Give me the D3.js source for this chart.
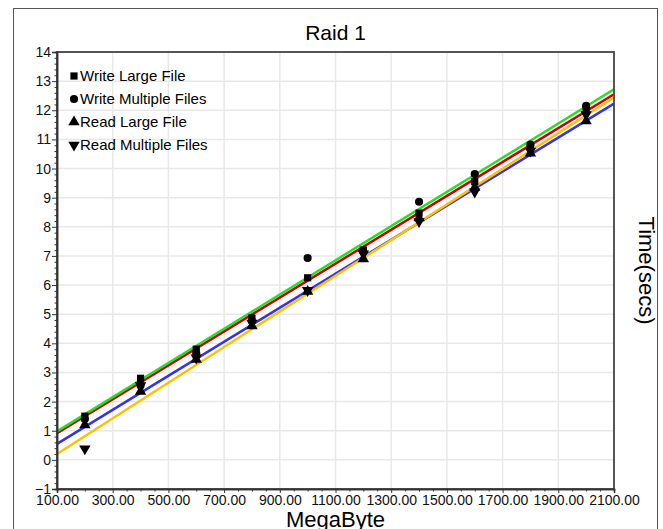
<!DOCTYPE html>
<html>
<head>
<meta charset="utf-8">
<script src="https://cdn.jsdelivr.net/npm/d3@7"></script>
<style>
  body { margin: 0; background: #fff; }
  svg { font-family: "Liberation Sans", Arial, sans-serif; }
</style>
</head>
<body>
<div id="main"></div>
<script>
const w = 663, h = 529
const margin = {left: 57, right: 49, top: 52, bottom: 40}

// data
const sizes = [200, 400, 600, 800, 1000, 1200, 1400, 1600, 1800, 2000]
const writeLarge = [1.5, 2.8, 3.8, 4.87, 6.25, 7.2, 8.47, 9.55, 10.78, 12.05]
const writeMultiple = [1.4, 2.55, 3.65, 4.77, 6.93, 7.15, 8.86, 9.81, 10.82, 12.15]
const readLarge = [1.2, 2.35, 3.45, 4.6, 5.78, 6.9, 8.3, 9.35, 10.53, 11.63]
const readMultiple = [0.38, 2.55, 3.5, 4.7, 5.82, 7.07, 8.18, 9.2, 10.6, 11.85]

// fitted lines, value at 100 and at 2100 MB
const fitX = [100, 2100]
const fitWriteLarge = [0.92, 12.55]
const fitWriteMultiple = [0.98, 12.72]
const fitReadLarge = [0.55, 12.23]
const fitReadMultiple = [0.2, 12.44]

const xTicks = d3.range(100, 2101, 200)
const yTicks = d3.range(-1, 15, 1)

const series = [
  {name: 'Write Large File', vals: writeLarge, fit: fitWriteLarge, sym: d3.symbolSquare, size: 52, color: '#cc0000'},
  {name: 'Write Multiple Files', vals: writeMultiple, fit: fitWriteMultiple, sym: d3.symbolCircle, size: 52, color: '#22e022'},
  {name: 'Read Large File', vals: readLarge, fit: fitReadLarge, sym: d3.symbolTriangle, size: 56, color: '#3333ee'},
  {name: 'Read Multiple Files', vals: readMultiple, fit: fitReadMultiple, sym: d3.symbolTriangle, size: 56, rot: 180, color: '#ffc000'}
]

const svg = d3.select('#main')
            .append('svg')
            .attr('width', w)
            .attr('height', h)

// outer frame
svg.append('rect')
    .attr('x', 13.5).attr('y', 8.5)
    .attr('width', 644).attr('height', 540)
    .attr('fill', 'none')
    .attr('stroke', '#555')
    .attr('stroke-width', 1)

const xScale = d3.scaleLinear()
                .domain([100, 2100])
                .range([margin.left, w - margin.right])
const yScale = d3.scaleLinear()
                .domain([-1, 14])
                .range([h - margin.bottom, margin.top])

// grid
svg.append('g').selectAll('line')
    .data(xTicks.slice(1, -1))
    .enter().append('line')
    .attr('x1', d => xScale(d)).attr('x2', d => xScale(d))
    .attr('y1', yScale(-1)).attr('y2', yScale(14))
    .attr('stroke', '#e8e8e8').attr('stroke-width', 1.5)
svg.append('g').selectAll('line')
    .data(yTicks.slice(1, -1))
    .enter().append('line')
    .attr('y1', d => yScale(d)).attr('y2', d => yScale(d))
    .attr('x1', xScale(100)).attr('x2', xScale(2100))
    .attr('stroke', '#e8e8e8').attr('stroke-width', 1.5)

// fit lines
const line = d3.line().x(d => xScale(d[0])).y(d => yScale(d[1]))
const plot = svg.append('g')
series.forEach(s => {
  plot.append('path')
      .datum(fitX.map((x, i) => [x, s.fit[i]]))
      .attr('d', line)
      .attr('fill', 'none')
      .attr('stroke', s.color)
      .attr('stroke-width', 2.5)
})

// points
series.forEach(s => {
  plot.append('g').selectAll('path')
      .data(sizes.map((x, i) => [x, s.vals[i]]))
      .enter().append('path')
      .attr('d', d3.symbol().type(s.sym).size(s.size))
      .attr('transform', d => `translate(${xScale(d[0])},${yScale(d[1])}) rotate(${s.rot || 0})`)
      .attr('fill', '#000')
})

// plot frame
svg.append('rect')
    .attr('x', xScale(100)).attr('y', yScale(14))
    .attr('width', xScale(2100) - xScale(100))
    .attr('height', yScale(-1) - yScale(14))
    .attr('fill', 'none')
    .attr('stroke', '#444')
    .attr('stroke-width', 1.8)

// axes
const xAxis = d3.axisBottom(xScale).tickValues(xTicks).tickFormat(d3.format('.2f')).tickSize(4).tickPadding(2)
const xMinor = d3.axisBottom(xScale).tickValues(d3.range(100, 2101, 50).filter(d => (d - 100) % 200)).tickSize(2.5).tickFormat('')
const yAxis = d3.axisLeft(yScale).tickValues(yTicks).tickSize(5).tickPadding(1)
const yMinor = d3.axisLeft(yScale).tickValues(d3.range(-1, 14, 0.2).filter(d => Math.abs(d - Math.round(d)) > 0.01)).tickSize(2.5).tickFormat('')

const gx = svg.append('g').attr('transform', `translate(0,${yScale(-1)})`).call(xAxis)
svg.append('g').attr('transform', `translate(0,${yScale(-1)})`).call(xMinor)
const gy = svg.append('g').attr('transform', `translate(${xScale(100)},0)`).call(yAxis)
svg.append('g').attr('transform', `translate(${xScale(100)},0)`).call(yMinor)

svg.selectAll('.domain').attr('stroke', '#333').attr('stroke-width', 1.5)
svg.selectAll('.tick line').attr('stroke', '#333')
gx.selectAll('text').style('font-size', '14px').attr('fill', '#111')
gy.selectAll('text').style('font-size', '14px').attr('fill', '#111')

// title & axis titles
svg.append('text')
    .text('Raid 1')
    .attr('x', (xScale(100) + xScale(2100)) / 2)
    .attr('y', 40)
    .attr('text-anchor', 'middle')
    .style('font-size', '21px')

svg.append('text')
    .text('MegaByte')
    .attr('x', (xScale(100) + xScale(2100)) / 2)
    .attr('y', 527)
    .attr('text-anchor', 'middle')
    .style('font-size', '22px')

svg.append('text')
    .text('Time(secs)')
    .attr('transform', `translate(639,${(yScale(-1) + yScale(14)) / 2}) rotate(90)`)
    .attr('text-anchor', 'middle')
    .style('font-size', '22px')

// legend
const legend = svg.append('g')
series.forEach((s, i) => {
  const y = 76 + i * 23
  legend.append('path')
      .attr('d', d3.symbol().type(s.sym).size(s.size))
      .attr('transform', `translate(74,${y}) rotate(${s.rot || 0})`)
  legend.append('text')
      .text(s.name)
      .attr('x', 80)
      .attr('y', y + 5)
      .style('font-size', '15px')
})
</script>
</body>
</html>
